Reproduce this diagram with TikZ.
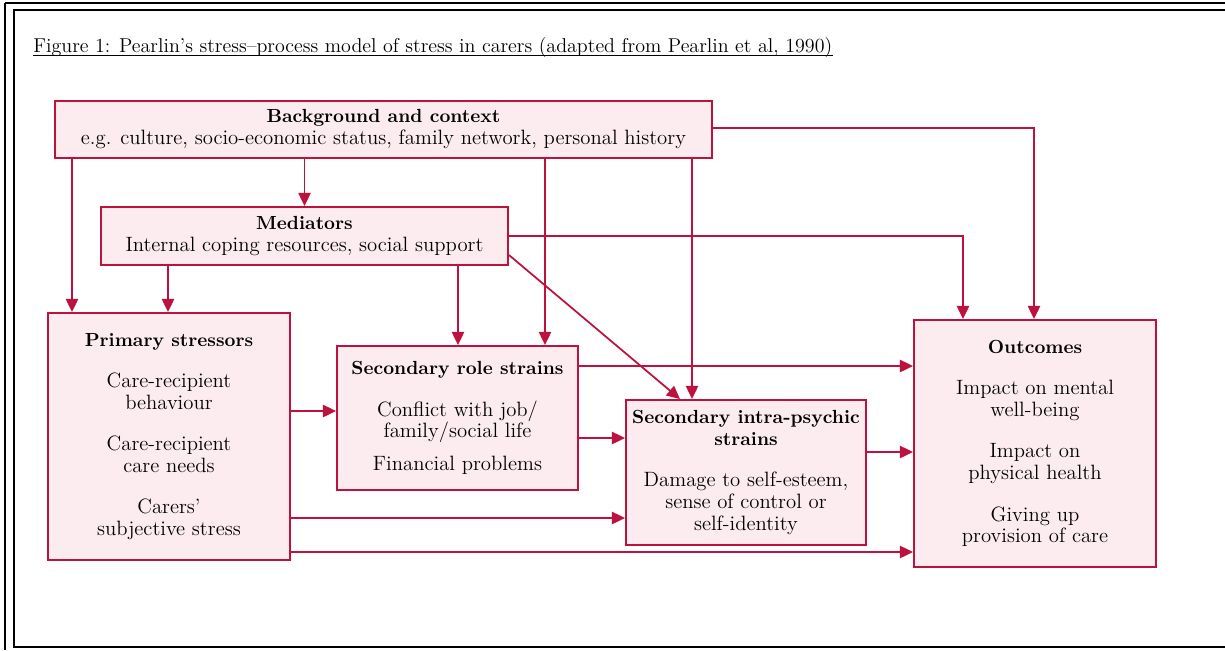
\documentclass[tikz,border=0pt]{standalone}
\usetikzlibrary{arrows.meta}
\definecolor{strainred}{RGB}{190,18,62}
\definecolor{boxpink}{RGB}{252,235,239}
\newcommand{\boxhead}[1]{{\fontsize{10.8}{12.5}\selectfont\bfseries #1}}
\begin{document}
\begin{tikzpicture}[x=0.02cm,y=-0.02cm,
    font=\fontsize{11.8}{12.5}\selectfont,
    block/.style={draw=strainred,fill=boxpink,line width=1.1pt,inner sep=0pt,
      align=center},
    link/.style={draw=strainred,line width=1pt,
      -{Triangle[length=7.5pt,width=7pt]}},
    frame/.style={line width=1.3pt}]
  \useasboundingbox (0,0) rectangle (1225,650);
  % Double rule of the surrounding table cell.
  \draw[line width=0.8pt] (5,3) -- (1225,3);
  \draw[frame] (5,3) -- (5,650);
  \draw[frame] (1225,10) -- (14,10) -- (14,647) -- (1225,647);
  \node[anchor=base west,inner sep=0pt,font=\fontsize{11.4}{13}\selectfont] (title) at (33,52)
    {Figure 1: Pearlin’s stress--process model of stress in carers (adapted from Pearlin et al, 1990)};
  \draw[line width=0.6pt] ([yshift=-2pt]title.base west) -- ([yshift=-2pt]title.base east);
  % The six boxes of the model.
  \node[block,minimum width=13.14cm,minimum height=1.14cm] (bg) at (383.5,129.5)
    {\boxhead{Background and context}\\
     e.g. culture, socio-economic status, family network, personal history};
  \node[block,minimum width=8.14cm,minimum height=1.16cm] (med) at (304.5,236)
    {\boxhead{Mediators}\\Internal coping resources, social support};
  \node[block,minimum width=4.84cm,minimum height=4.94cm] (prim) at (169,436.5)
    {\boxhead{Primary stressors}\\[11pt]
     Care-recipient\\behaviour\\[11pt]
     Care-recipient\\care needs\\[11pt]
     Carers’\\subjective stress};
  \node[block,minimum width=4.82cm,minimum height=2.88cm] (role) at (457.5,418)
    {\boxhead{Secondary role strains}\\[11pt]
     Conflict with job/\\family/social life\\[6pt]
     Financial problems};
  \node[block,minimum width=4.80cm,minimum height=2.90cm] (intra) at (746,472.5)
    {\boxhead{Secondary intra-psychic}\\\boxhead{strains}\\[11pt]
     Damage to self-esteem,\\sense of control or\\self-identity};
  \node[block,minimum width=4.84cm,minimum height=4.94cm] (out) at (1035,443.5)
    {\boxhead{Outcomes}\\[11pt]
     Impact on mental\\well-being\\[11pt]
     Impact on\\physical health\\[11pt]
     Giving up\\provision of care};
  % Paths from background and mediators.
  \draw[link] (72,0 |- bg.south) -- (72,0 |- prim.north);
  \draw[link] (med.north |- bg.south) -- (med.north);
  \draw[link] (545,0 |- bg.south) -- (545,0 |- role.north);
  \draw[link] (692,0 |- bg.south) -- (692,0 |- intra.north);
  \draw[link] (bg.east |- 0,128) -| (1034,0 |- out.north);
  \draw[link] (168,0 |- med.south) -- (168,0 |- prim.north);
  \draw[link] (458,0 |- med.south) -- (458,0 |- role.north);
  \draw[link] (med.east) -| (963,0 |- out.north);
  \draw[link] (med.east |- 0,255) -- (680,0 |- intra.north);
  % Paths between stressors, strains and outcomes.
  \draw[link] (prim.east |- 0,411) -- (role.west |- 0,411);
  \draw[link] (role.east |- 0,366) -- (out.west |- 0,366);
  \draw[link] (role.east |- 0,438) -- (intra.west |- 0,438);
  \draw[link] (prim.east |- 0,518) -- (intra.west |- 0,518);
  \draw[link] (prim.east |- 0,552) -- (out.west |- 0,552);
  \draw[link] (intra.east |- 0,452) -- (out.west |- 0,452);
\end{tikzpicture}
\end{document}
